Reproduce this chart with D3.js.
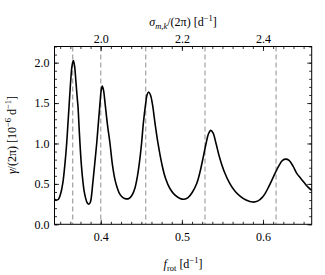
<!DOCTYPE html>
<html><head><meta charset="utf-8">
<script src="https://cdn.jsdelivr.net/npm/d3@7"></script>
<style>body{margin:0;background:#fff}svg{display:block}</style>
</head><body>
<svg id="c" width="325" height="275"></svg>
<script>
// ---- data ----
const frot = [0.3430,0.3455,0.3479,0.3506,0.3522,0.3538,0.3559,0.3580,0.3596,0.3612,0.3630,0.3646,0.3662,0.3677,0.3693,0.3707,0.3720,0.3732,0.3744,0.3760,0.3778,0.3794,0.3812,0.3831,0.3853,0.3874,0.3889,0.3901,0.3926,0.3950,0.3972,0.3991,0.4006,0.4019,0.4034,0.4053,0.4083,0.4114,0.4145,0.4176,0.4207,0.4237,0.4274,0.4311,0.4348,0.4385,0.4422,0.4453,0.4475,0.4503,0.4525,0.4552,0.4573,0.4591,0.4613,0.4638,0.4669,0.4706,0.4752,0.4798,0.4854,0.4916,0.4977,0.5026,0.5076,0.5125,0.5183,0.5224,0.5264,0.5298,0.5328,0.5356,0.5384,0.5421,0.5462,0.5519,0.5593,0.5655,0.5717,0.5791,0.5873,0.5939,0.5988,0.6025,0.6068,0.6111,0.6148,0.6198,0.6241,0.6280,0.6321,0.6370,0.6416,0.6463,0.6512,0.6555,0.6600];
const gamma = [0.31,0.30,0.31,0.38,0.45,0.55,0.75,1.00,1.25,1.50,1.78,1.96,2.025,1.96,1.78,1.60,1.45,1.22,1.00,0.75,0.55,0.42,0.33,0.27,0.248,0.28,0.38,0.50,0.75,1.00,1.27,1.50,1.66,1.71,1.66,1.50,1.23,1.00,0.73,0.55,0.44,0.37,0.33,0.315,0.32,0.36,0.45,0.60,0.75,1.00,1.25,1.48,1.61,1.637,1.60,1.48,1.25,1.00,0.75,0.57,0.44,0.36,0.32,0.31,0.33,0.39,0.505,0.65,0.835,1.00,1.12,1.162,1.13,1.00,0.835,0.66,0.50,0.41,0.35,0.30,0.275,0.29,0.33,0.38,0.46,0.55,0.63,0.73,0.79,0.806,0.79,0.72,0.63,0.57,0.51,0.46,0.42];
const resonances = [0.3654,0.4000,0.4554,0.5285,0.6161];
const xTicks = [0.4,0.5,0.6];
const yTicks = [0.0,0.5,1.0,1.5,2.0];
const sigmaTicks = [2.0,2.2,2.4];
const xDomain = [0.343,0.66];
const yDomain = [0,2.2];

// ---- layout ----
const L=54.5, R=311.7, T=46.5, B=224.3;
const svg = d3.select("#c");
const FONT = "'Liberation Serif', 'DejaVu Serif', serif";
const x = d3.scaleLinear().domain(xDomain).range([L,R]);
const sig = d3.scaleLinear().domain(xDomain.map(f=>1.2+2*f)).range([L,R]);
const y = d3.scaleLinear().domain(yDomain).range([B,T]);

svg.append("defs").append("clipPath").attr("id","cp")
  .append("rect").attr("x",L).attr("y",T).attr("width",R-L).attr("height",B-T);

// dashed resonance lines
svg.append("g").attr("clip-path","url(#cp)").selectAll("line").data(resonances).join("line")
  .attr("x1",d=>x(d)).attr("x2",d=>x(d)).attr("y1",T).attr("y2",B)
  .attr("stroke","#a8a8a8").attr("stroke-width",1.3).attr("stroke-dasharray","5,3");

// curve
const pts = frot.map((f,i)=>[f,gamma[i]]);
svg.append("path").attr("clip-path","url(#cp)").datum(pts)
  .attr("d", d3.line().x(d=>x(d[0])).y(d=>y(d[1])).curve(d3.curveCatmullRom.alpha(0.5)))
  .attr("fill","none").attr("stroke","#000").attr("stroke-width",1.6);

// axes helpers
function minorRange(a,b,step){const out=[];for(let v=Math.ceil(a/step-1e-9)*step;v<=b+1e-9;v+=step){out.push(+v.toFixed(6));}return out;}
const MAJ=-4.5, MIN=-2.5;
function styleAxis(g){g.select(".domain").remove();g.selectAll("line").attr("stroke","#000").attr("stroke-width",0.8);
  g.selectAll("text").attr("font-family",FONT).attr("font-size",12).attr("fill","#000");}

// bottom
svg.append("g").attr("transform",`translate(0,${B})`)
  .call(d3.axisBottom(x).tickValues(minorRange(xDomain[0],xDomain[1],0.0125)).tickSizeInner(MIN).tickSizeOuter(0).tickFormat("")).call(styleAxis);
svg.append("g").attr("transform",`translate(0,${B})`)
  .call(d3.axisBottom(x).tickValues(xTicks).tickSizeInner(MAJ).tickSizeOuter(0).tickPadding(8).tickFormat(d3.format(".1f"))).call(styleAxis);
// top
const sd = sig.domain();
svg.append("g").attr("transform",`translate(0,${T})`)
  .call(d3.axisTop(sig).tickValues(minorRange(sd[0],sd[1],0.025)).tickSizeInner(MIN).tickSizeOuter(0).tickFormat("")).call(styleAxis);
svg.append("g").attr("transform",`translate(0,${T})`)
  .call(d3.axisTop(sig).tickValues(sigmaTicks).tickSizeInner(MAJ).tickSizeOuter(0).tickPadding(4).tickFormat(d3.format(".1f"))).call(styleAxis);
// left
svg.append("g").attr("transform",`translate(${L},0)`)
  .call(d3.axisLeft(y).tickValues(minorRange(yDomain[0],yDomain[1],0.1)).tickSizeInner(MIN).tickSizeOuter(0).tickFormat("")).call(styleAxis);
svg.append("g").attr("transform",`translate(${L},0)`)
  .call(d3.axisLeft(y).tickValues(yTicks).tickSizeInner(MAJ).tickSizeOuter(0).tickPadding(5).tickFormat(d3.format(".1f"))).call(styleAxis);
// right
svg.append("g").attr("transform",`translate(${R},0)`)
  .call(d3.axisRight(y).tickValues(minorRange(yDomain[0],yDomain[1],0.1)).tickSizeInner(MIN).tickSizeOuter(0).tickFormat("")).call(styleAxis);
svg.append("g").attr("transform",`translate(${R},0)`)
  .call(d3.axisRight(y).tickValues(yTicks).tickSizeInner(MAJ).tickSizeOuter(0).tickFormat("")).call(styleAxis);

// frame
svg.append("rect").attr("x",L).attr("y",T).attr("width",R-L).attr("height",B-T)
  .attr("fill","none").attr("stroke","#000").attr("stroke-width",1);

// labels
function label(parts, tx, ty, rot){
  const t = svg.append("text").attr("font-family",FONT).attr("font-size",12).attr("fill","#000")
    .attr("text-anchor","middle").attr("transform",`translate(${tx},${ty})${rot?` rotate(${rot})`:""}`);
  parts.forEach(p=>{
    const s = t.append("tspan").text(p.t);
    if(p.i) s.attr("font-style","italic");
    if(p.sup){ s.attr("dy",-5).attr("font-size",8.5); }
    if(p.sub){ s.attr("dy",3).attr("font-size",8.5); }
    if(p.back) s.attr("dy",p.back);
  });
  return t;
}
label([{t:"f",i:true},{t:"rot",sub:true},{t:" [d",back:-3},{t:"−1",sup:true},{t:"]",back:5}],183,268);
label([{t:"σ",i:true},{t:"m,k",i:true,sub:true},{t:"/(2π) [d",back:-3},{t:"−1",sup:true},{t:"]",back:5}],183,26);
label([{t:"γ",i:true},{t:"/(2π) [10"},{t:"−6",sup:true},{t:" d",back:5},{t:"−1",sup:true},{t:"]",back:5}],16,135,-90);
</script>
</body></html>
